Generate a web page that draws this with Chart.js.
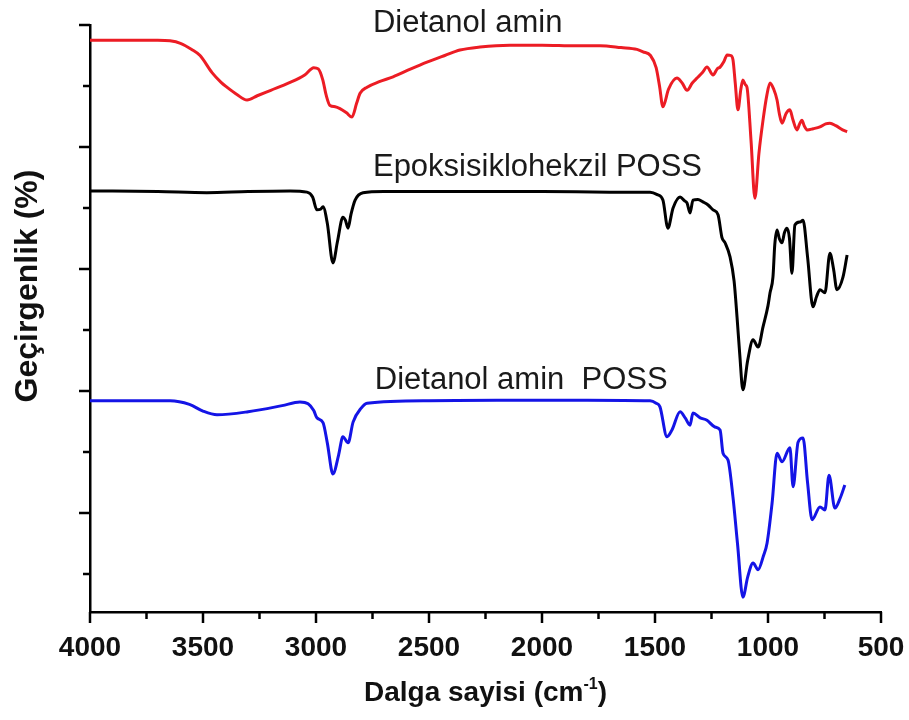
<!DOCTYPE html>
<html lang="tr">
<head>
  <meta charset="UTF-8" />
  <title>FTIR</title>
  <style>
    body { margin: 0; background: #fff; }
    #ftirChart { display: block; }
  </style>
</head>
<body>
  <canvas id="ftirChart" width="909" height="720"></canvas>

  <script src="https://cdn.jsdelivr.net/npm/chart.js"></script>
  <script>
    // Dietanol amin (red)
    const daWave = [4000, 3800, 3700, 3646, 3600, 3550, 3513, 3460, 3420, 3394, 3350, 3305, 3260, 3200, 3120, 3050, 3010, 2990, 2970, 2955, 2938, 2915, 2894, 2865, 2841, 2820, 2805, 2774, 2720, 2659, 2580, 2509, 2430, 2363, 2274, 2142, 2000, 1850, 1743, 1650, 1580, 1553, 1520, 1495, 1480, 1465, 1440, 1403, 1380, 1358, 1335, 1314, 1290, 1270, 1243, 1225, 1212, 1195, 1181, 1165, 1155, 1145, 1133, 1120, 1111, 1100, 1093, 1075, 1058, 1040, 1022, 1005, 991, 975, 960, 950, 938, 920, 903, 890, 872, 860, 850, 840, 827, 800, 770, 745, 726, 700, 670, 650];
    const daT = [9.75, 9.75, 9.75, 9.74, 9.70, 9.60, 9.50, 9.22, 9.06, 8.98, 8.86, 8.77, 8.84, 8.93, 9.05, 9.18, 9.30, 9.28, 9.10, 8.85, 8.68, 8.66, 8.63, 8.56, 8.49, 8.72, 8.88, 8.98, 9.07, 9.15, 9.28, 9.39, 9.50, 9.59, 9.64, 9.67, 9.67, 9.66, 9.66, 9.63, 9.60, 9.56, 9.50, 9.30, 9.00, 8.66, 8.95, 9.13, 9.05, 8.93, 9.05, 9.13, 9.22, 9.31, 9.18, 9.28, 9.31, 9.40, 9.51, 9.50, 9.43, 9.05, 8.61, 8.95, 9.10, 9.02, 8.98, 8.10, 7.16, 7.90, 8.44, 8.85, 9.05, 8.95, 8.77, 8.55, 8.39, 8.55, 8.61, 8.45, 8.28, 8.38, 8.44, 8.35, 8.28, 8.30, 8.33, 8.38, 8.39, 8.35, 8.28, 8.25];

    // Epoksisiklohekzil POSS (black)
    const epWave = [4000, 3700, 3483, 3300, 3115, 3040, 3015, 2996, 2980, 2969, 2950, 2925, 2905, 2881, 2870, 2858, 2845, 2827, 2792, 2700, 2400, 2000, 1700, 1522, 1490, 1465, 1443, 1420, 1389, 1370, 1358, 1345, 1332, 1310, 1288, 1265, 1243, 1221, 1204, 1190, 1168, 1150, 1137, 1125, 1111, 1090, 1066, 1044, 1022, 1000, 991, 978, 970, 960, 950, 938, 927, 916, 905, 894, 881, 858, 845, 825, 801, 785, 770, 748, 726, 710, 695, 668, 650];
    const epT = [7.28, 7.27, 7.25, 7.27, 7.28, 7.26, 7.18, 6.97, 6.98, 7.02, 6.75, 6.10, 6.45, 6.85, 6.80, 6.67, 6.90, 7.13, 7.25, 7.27, 7.27, 7.27, 7.26, 7.26, 7.22, 7.13, 6.67, 7.00, 7.18, 7.12, 7.08, 6.92, 7.13, 7.14, 7.10, 7.05, 6.97, 6.89, 6.52, 6.43, 6.20, 5.80, 5.21, 4.60, 4.02, 4.50, 4.84, 4.72, 5.05, 5.40, 5.61, 5.87, 6.40, 6.64, 6.50, 6.43, 6.60, 6.67, 6.50, 5.93, 6.72, 6.77, 6.80, 6.20, 5.38, 5.55, 5.66, 5.61, 6.26, 6.00, 5.66, 5.87, 6.23];

    // Dietanol amin POSS (blue)
    const dpWave = [4000, 3646, 3560, 3500, 3438, 3300, 3150, 3071, 3035, 3010, 2996, 2969, 2950, 2925, 2900, 2881, 2858, 2836, 2800, 2774, 2500, 2200, 1800, 1522, 1495, 1478, 1447, 1425, 1389, 1365, 1345, 1332, 1300, 1270, 1235, 1212, 1199, 1177, 1155, 1135, 1111, 1090, 1066, 1044, 1020, 1004, 982, 960, 938, 903, 889, 867, 845, 825, 805, 770, 748, 730, 704, 680, 660];
    const dpT = [3.84, 3.84, 3.78, 3.67, 3.61, 3.66, 3.76, 3.82, 3.79, 3.68, 3.56, 3.48, 3.15, 2.64, 2.95, 3.25, 3.15, 3.49, 3.72, 3.80, 3.84, 3.85, 3.85, 3.84, 3.80, 3.74, 3.25, 3.36, 3.66, 3.55, 3.44, 3.64, 3.56, 3.52, 3.41, 3.36, 2.98, 2.87, 2.26, 1.50, 0.62, 0.95, 1.18, 1.07, 1.30, 1.51, 2.16, 2.98, 2.84, 3.07, 2.43, 3.16, 3.23, 2.50, 1.89, 2.10, 2.05, 2.62, 2.08, 2.25, 2.46];

    const seriesNames = ['Dietanol amin', 'Epoksisiklohekzil POSS', 'Dietanol amin  POSS'];
    // where each name sits: [wavenumber, value] of the text's left baseline
    const nameSpots = [[2748, 9.885], [2748, 7.525], [2740, 4.033]];
    const xTicks = [4000, 3500, 3000, 2500, 2000, 1500, 1000, 500];
    const yTicks = [10, 9, 8, 7, 6, 5, 4, 3, 2, 1];

    const toPoints = (xs, ys) => xs.map((x, i) => ({ x: x, y: ys[i] }));

    const axisDecor = {
      id: 'axisDecor',
      afterDraw(chart) {
        const ctx = chart.ctx;
        const xs = chart.scales.x, ys = chart.scales.y;
        const area = chart.chartArea;
        ctx.save();
        ctx.strokeStyle = '#000';
        ctx.lineWidth = 2.5;
        // x ticks, long at labelled values
        xs.ticks.forEach(t => {
          const px = xs.getPixelForValue(t.value);
          const len = xTicks.includes(t.value) ? 11 : 7;
          ctx.beginPath();
          ctx.moveTo(px, area.bottom);
          ctx.lineTo(px, area.bottom + len);
          ctx.stroke();
        });
        yTicks.forEach(v => {
          const py = ys.getPixelForValue(v);
          const len = v % 2 === 0 ? 11 : 7;
          ctx.beginPath();
          ctx.moveTo(area.left, py);
          ctx.lineTo(area.left - len, py);
          ctx.stroke();
        });

        // series names
        ctx.fillStyle = '#1a1a1a';
        ctx.font = '31px "Liberation Sans", Arial, sans-serif';
        ctx.textBaseline = 'alphabetic';
        ctx.textAlign = 'left';
        seriesNames.forEach((name, i) => {
          ctx.fillText(name, xs.getPixelForValue(nameSpots[i][0]), ys.getPixelForValue(nameSpots[i][1]));
        });

        // x title with superscript
        ctx.fillStyle = '#111';
        const bigFont = 'bold 28px "Liberation Sans", Arial, sans-serif';
        const supFont = 'bold 16px "Liberation Sans", Arial, sans-serif';
        ctx.font = bigFont;
        const w1 = ctx.measureText('Dalga sayisi (cm').width;
        const w3 = ctx.measureText(')').width;
        ctx.font = supFont;
        const w2 = ctx.measureText('-1').width;
        let tx = (area.left + area.right) / 2 - (w1 + w2 + w3) / 2;
        const ty = 701;
        ctx.font = bigFont;
        ctx.fillText('Dalga sayisi (cm', tx, ty);
        ctx.font = supFont;
        ctx.fillText('-1', tx + w1, ty - 12);
        ctx.font = bigFont;
        ctx.fillText(')', tx + w1 + w2, ty);

        // y title
        ctx.translate(37, 286);
        ctx.rotate(-Math.PI / 2);
        ctx.textAlign = 'center';
        ctx.font = 'bold 32px "Liberation Sans", Arial, sans-serif';
        ctx.fillText('Geçirgenlik (%)', 0, 0);
        ctx.restore();
      }
    };

    const line = (pts, color) => ({
      data: pts,
      borderColor: color,
      borderWidth: 3,
      pointRadius: 0,
      fill: false,
      cubicInterpolationMode: 'monotone'
    });

    new Chart(document.getElementById('ftirChart'), {
      type: 'line',
      data: {
        datasets: [
          line(toPoints(daWave, daT), '#ec1c24'),
          line(toPoints(epWave, epT), '#000000'),
          line(toPoints(dpWave, dpT), '#1414e6')
        ]
      },
      options: {
        responsive: false,
        animation: false,
        layout: { padding: { top: 25, right: 28, left: 0, bottom: 0 } },
        plugins: { legend: { display: false }, tooltip: { enabled: false } },
        scales: {
          x: {
            type: 'linear',
            reverse: true,
            min: 500,
            max: 4000,
            afterFit: s => { s.height = 108; },
            grid: { display: true, drawOnChartArea: false, drawTicks: true, tickLength: 16, tickColor: 'rgba(0,0,0,0)' },
            border: { display: true, color: '#000', width: 2.5 },
            ticks: {
              stepSize: 250,
              autoSkip: false,
              maxRotation: 0,
              minRotation: 0,
              padding: 3,
              color: '#111',
              font: { family: '"Liberation Sans", Arial, sans-serif', size: 28, weight: 'bold' },
              callback: v => xTicks.includes(v) ? String(v) : ''
            }
          },
          y: {
            min: 0.377,
            max: 10,
            afterFit: s => { s.width = 90; },
            afterBuildTicks: s => { s.ticks = yTicks.map(v => ({ value: v })); },
            grid: { display: true, drawOnChartArea: false, drawTicks: false },
            border: { display: true, color: '#000', width: 2.5 },
            ticks: { display: false }
          }
        }
      },
      plugins: [axisDecor]
    });
  </script>
</body>
</html>
